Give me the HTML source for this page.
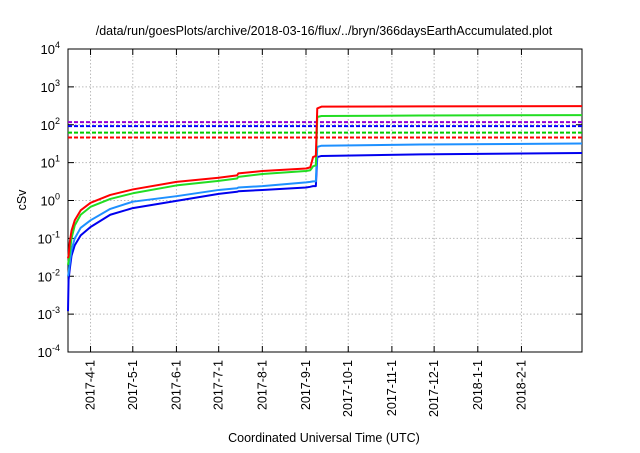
<!DOCTYPE html>
<html><head><meta charset="utf-8"><style>
body{margin:0;background:#fff;}
svg{font-family:"Liberation Sans",sans-serif;}
</style></head><body>
<svg id="chart" width="640" height="448" xmlns="http://www.w3.org/2000/svg">
<text x="324" y="35" font-size="12.5" text-anchor="middle">/data/run/goesPlots/archive/2018-03-16/flux/../bryn/366daysEarthAccumulated.plot</text>
<text transform="translate(26,200) rotate(-90)" font-size="12.5" text-anchor="middle">cSv</text>
<text x="324" y="442" font-size="12.5" text-anchor="middle">Coordinated Universal Time (UTC)</text>
<g id="grid"></g><g id="axes"></g><g id="series"></g>
</svg>
<script>
const tickMonths=["2017-4-1","2017-5-1","2017-6-1","2017-7-1","2017-8-1","2017-9-1","2017-10-1","2017-11-1","2017-12-1","2018-1-1","2018-2-1"];
const tickDays=[16,46,77,107,138,169,199,230,260,291,322];
const yExps=[-4,-3,-2,-1,0,1,2,3,4];
const days=[0,0.4,1.2,2.5,4.8,9,16,30,46,77,107,120,121,138,169,172,173,174,176,177,180,250,365];
const red=[0.03,0.035,0.076,0.16,0.3,0.55,0.87,1.4,1.96,3.1,4,4.6,5.2,6,7,7.5,10,14,15,270,300,305,310];
const green=[0.02,0.025,0.04,0.1,0.22,0.42,0.68,1.1,1.55,2.5,3.3,3.8,4.2,5,6,6.3,7,8,8.5,160,170,175,180];
const lightBlue=[0.01,0.012,0.022,0.05,0.1,0.19,0.3,0.6,0.93,1.3,1.9,2.1,2.2,2.4,3,3.1,3.15,3.2,3.2,26,28,30,32];
const blue=[0.0012,0.008,0.015,0.035,0.066,0.12,0.2,0.42,0.63,0.98,1.5,1.7,1.75,1.9,2.2,2.3,2.35,2.4,2.4,14,15,16.5,18];
const limitNames=["purple","blue","green","red"];
const limitValues=[117,92,62,46];
const L=68,R=582,T=49,B=352,NS="http://www.w3.org/2000/svg";
const xs=d=>L+d*(R-L)/365;
const ys=v=>B-(Math.log10(v)+4)*(B-T)/8;
function mk(tag,attrs,parent){const e=document.createElementNS(NS,tag);for(const k in attrs)e.setAttribute(k,attrs[k]);parent.appendChild(e);return e;}
const grid=document.getElementById('grid'),axes=document.getElementById('axes'),ser=document.getElementById('series');
yExps.forEach(e=>{const y=ys(Math.pow(10,e));
 if(e>-4&&e<4){const g=mk('line',{x1:L,x2:R,y1:y,y2:y,stroke:'#bbb','stroke-dasharray':'1.5,2','stroke-width':1},grid);
 
 }
 mk('line',{x1:L,x2:L+6,y1:y,y2:y,stroke:'#000'},axes);mk('line',{x1:R,x2:R-6,y1:y,y2:y,stroke:'#000'},axes);
 const t=mk('text',{x:L-8,y:y+5,'font-size':13,'text-anchor':'end'},axes);
 
 
 t.innerHTML='10<tspan dy="-6" font-size="9">'+e+'</tspan>';});
tickDays.forEach((d,i)=>{const x=xs(d);
 const g=mk('line',{x1:x,x2:x,y1:T,y2:B,stroke:'#bbb','stroke-dasharray':'1.5,2','stroke-width':1},grid);
 
 
 mk('line',{x1:x,x2:x,y1:B,y2:B-6,stroke:'#000'},axes);mk('line',{x1:x,x2:x,y1:T,y2:T+6,stroke:'#000'},axes);
 const t=mk('text',{transform:`translate(${x+4},${B+8}) rotate(-90)`,'font-size':12.5,'text-anchor':'end'},axes);
 
 
 t.textContent=tickMonths[i];});
const fr=mk('rect',{x:L,y:T,width:R-L,height:B-T,fill:'none',stroke:'#000','stroke-width':1},axes);


const lc={purple:'#9400d3',blue:'#0000ff',green:'#00cc00',red:'#ff0000'};
limitValues.forEach((v,i)=>{const l=mk('line',{x1:L,x2:R,y1:ys(v),y2:ys(v),stroke:lc[limitNames[i]],'stroke-width':2,'stroke-dasharray':'4,2'},ser);
 
 });
[[blue,'#0000ee','blue'],[lightBlue,'#1e90ff','light-blue'],[green,'#22dd22','green'],[red,'#ff0000','red']].forEach(([arr,c,n])=>{
 const p=mk('polyline',{points:days.map((d,i)=>xs(d)+','+ys(arr[i])).join(' '),fill:'none',stroke:c,'stroke-width':2,'stroke-linejoin':'round'},ser);
 
 });
</script>
</body></html>
